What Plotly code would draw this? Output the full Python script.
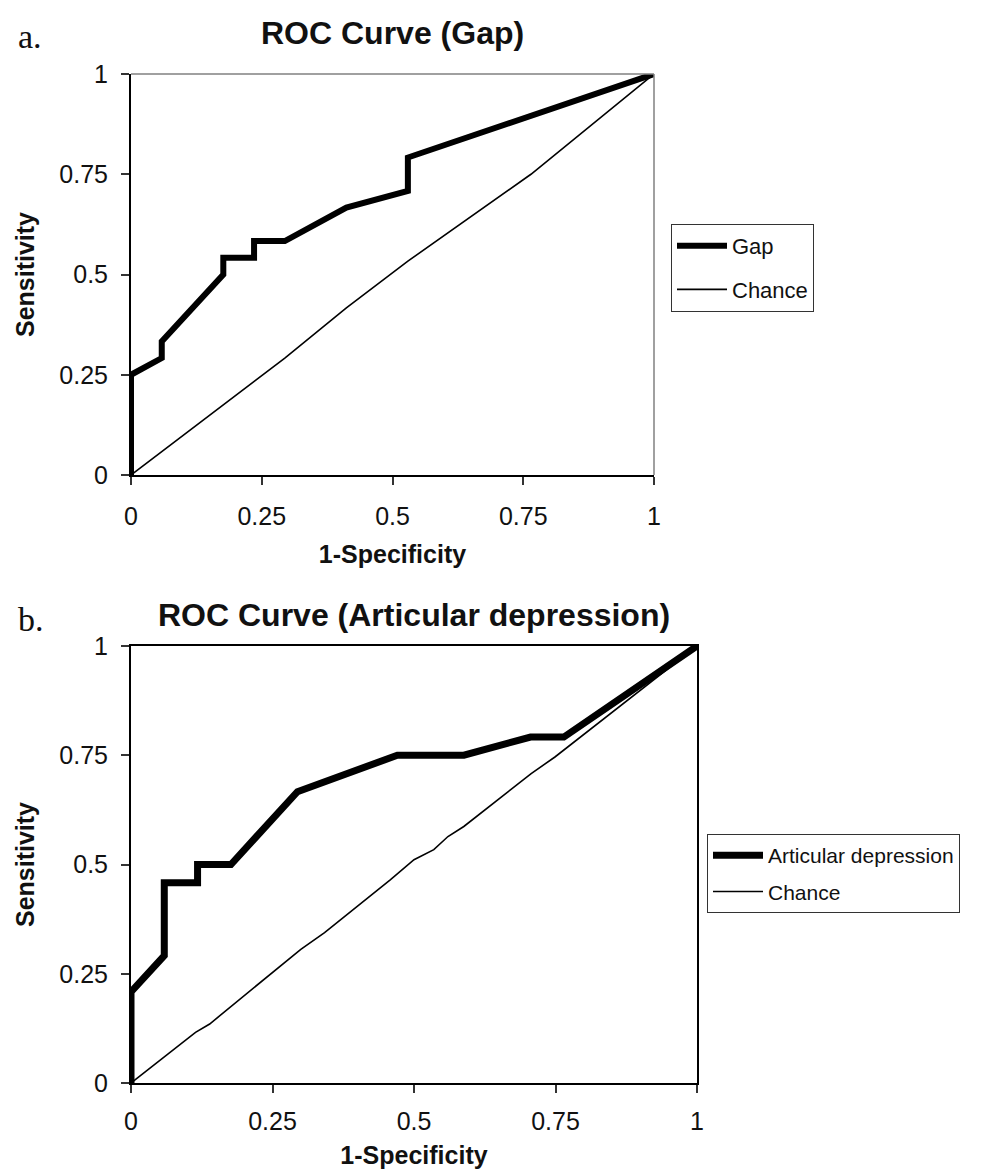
import plotly.graph_objects as go

# ---- data ----
gap_fpr = [0, 0, 0.0588, 0.0588, 0.1765, 0.1765, 0.2353, 0.2353, 0.2941, 0.4118, 0.5294, 0.5294, 1]
gap_tpr = [0, 0.25, 0.2917, 0.3333, 0.5, 0.5417, 0.5417, 0.5833, 0.5833, 0.6667, 0.7083, 0.7917, 1]
chance_a_x = [0, 0.1176, 0.2941, 0.4118, 0.5294, 0.7647, 1]
chance_a_y = [0, 0.1167, 0.2917, 0.4167, 0.5333, 0.75, 1]

ad_fpr = [0, 0, 0.0588, 0.0588, 0.1176, 0.1176, 0.1765, 0.2941, 0.4706, 0.5882, 0.7059, 0.7647, 1]
ad_tpr = [0, 0.2083, 0.2917, 0.4583, 0.4583, 0.5, 0.5, 0.6667, 0.75, 0.75, 0.7917, 0.7917, 1]
chance_b_x = [0, 0.0617, 0.114, 0.139, 0.300, 0.342, 0.458, 0.500, 0.535, 0.560, 0.588, 0.707, 0.749, 1]
chance_b_y = [0, 0.063, 0.116, 0.135, 0.306, 0.344, 0.465, 0.511, 0.534, 0.564, 0.587, 0.708, 0.746, 1]

tick_vals = [0, 0.25, 0.5, 0.75, 1]
tick_text = ["0", "0.25", "0.5", "0.75", "1"]

# page body has an 8px margin, so the figure is placed 8px in from the window corner
OFF = 8
W, H = 992 - OFF, 1172 - OFF
FONT = "Liberation Sans, Arial, Helvetica, sans-serif"

fig = go.Figure()

fig.add_trace(go.Scatter(x=gap_fpr, y=gap_tpr, mode="lines", name="Gap",
                         line=dict(color="black", width=6), legend="legend",
                         legendgroup="g1", cliponaxis=False, xaxis="x", yaxis="y"))
fig.add_trace(go.Scatter(x=chance_a_x, y=chance_a_y, mode="lines", name="Chance",
                         line=dict(color="black", width=1.6), legend="legend",
                         legendgroup="g2", cliponaxis=False, xaxis="x", yaxis="y"))
fig.add_trace(go.Scatter(x=ad_fpr, y=ad_tpr, mode="lines", name="Articular depression",
                         line=dict(color="black", width=7), legend="legend2",
                         legendgroup="g3", cliponaxis=False, xaxis="x2", yaxis="y2"))
fig.add_trace(go.Scatter(x=chance_b_x, y=chance_b_y, mode="lines", name="Chance",
                         line=dict(color="black", width=1.6), legend="legend2",
                         legendgroup="g4", cliponaxis=False, xaxis="x2", yaxis="y2"))

def px_x(p):
    return (p - OFF) / W

def px_y(p):
    return 1 - (p - OFF) / H

axis_common = dict(range=[0, 1], tickvals=tick_vals, ticktext=tick_text,
                   ticks="outside", ticklen=8, tickcolor="#333", tickwidth=1.5,
                   showgrid=False, zeroline=False, showline=True,
                   linecolor="black", linewidth=2, automargin=False,
                   tickfont=dict(family=FONT, size=25, color="#111"),
                   fixedrange=True)

title_font = dict(family=FONT, size=25, color="#111", weight="bold")

fig.update_layout(
    width=W, height=H,
    margin=dict(l=0, r=0, t=0, b=0, autoexpand=False),
    paper_bgcolor="white", plot_bgcolor="white",
    showlegend=True,
    xaxis=dict(domain=[px_x(131), px_x(654)], anchor="y",
               title=dict(text="1-Specificity", font=title_font, standoff=16),
               ticklabelstandoff=10, **axis_common),
    yaxis=dict(domain=[px_y(475), px_y(74)], anchor="x",
               title=dict(text="Sensitivity", font=title_font, standoff=18),
               ticklabelstandoff=8, **axis_common),
    xaxis2=dict(domain=[px_x(131), px_x(697)], anchor="y2", mirror=True,
                title=dict(text="1-Specificity", font=title_font, standoff=12),
                ticklabelstandoff=7, **axis_common),
    yaxis2=dict(domain=[px_y(1083), px_y(646)], anchor="x2", mirror=True,
                title=dict(text="Sensitivity", font=title_font, standoff=18),
                ticklabelstandoff=8, **axis_common),
    legend=dict(x=px_x(671), y=px_y(224), xanchor="left", yanchor="top",
                bordercolor="#333", borderwidth=1, bgcolor="white",
                font=dict(family=FONT, size=22, color="#111"),
                traceorder="grouped", tracegroupgap=12, itemwidth=50),
    legend2=dict(x=px_x(707), y=px_y(834), xanchor="left", yanchor="top",
                 bordercolor="#333", borderwidth=1, bgcolor="white",
                 font=dict(family=FONT, size=21, color="#111"),
                 traceorder="grouped", tracegroupgap=6, itemwidth=50),
    shapes=[
        dict(type="line", xref="x domain", yref="y domain", x0=0, x1=1, y0=1, y1=1,
             line=dict(color="#808080", width=1.5)),
        dict(type="line", xref="x domain", yref="y domain", x0=1, x1=1, y0=0, y1=1,
             line=dict(color="#808080", width=1.5)),
    ],
    annotations=[
        dict(text="<b>ROC Curve (Gap)</b>", x=(px_x(131) + px_x(654)) / 2, y=px_y(33),
             xref="paper", yref="paper", xanchor="center", yanchor="middle",
             showarrow=False, font=dict(family=FONT, size=32, color="#111")),
        dict(text="<b>ROC Curve (Articular depression)</b>", x=(px_x(131) + px_x(697)) / 2,
             y=px_y(615), xref="paper", yref="paper", xanchor="center", yanchor="middle",
             showarrow=False, font=dict(family=FONT, size=32, color="#111")),
        dict(text="a.", x=px_x(16), y=px_y(36), xref="paper", yref="paper",
             xanchor="left", yanchor="middle", showarrow=False,
             font=dict(family="Liberation Serif, Times New Roman, serif", size=34, color="#111")),
        dict(text="b.", x=px_x(16), y=px_y(619), xref="paper", yref="paper",
             xanchor="left", yanchor="middle", showarrow=False,
             font=dict(family="Liberation Serif, Times New Roman, serif", size=34, color="#111")),
    ],
)

fig.write_html("out.html")
